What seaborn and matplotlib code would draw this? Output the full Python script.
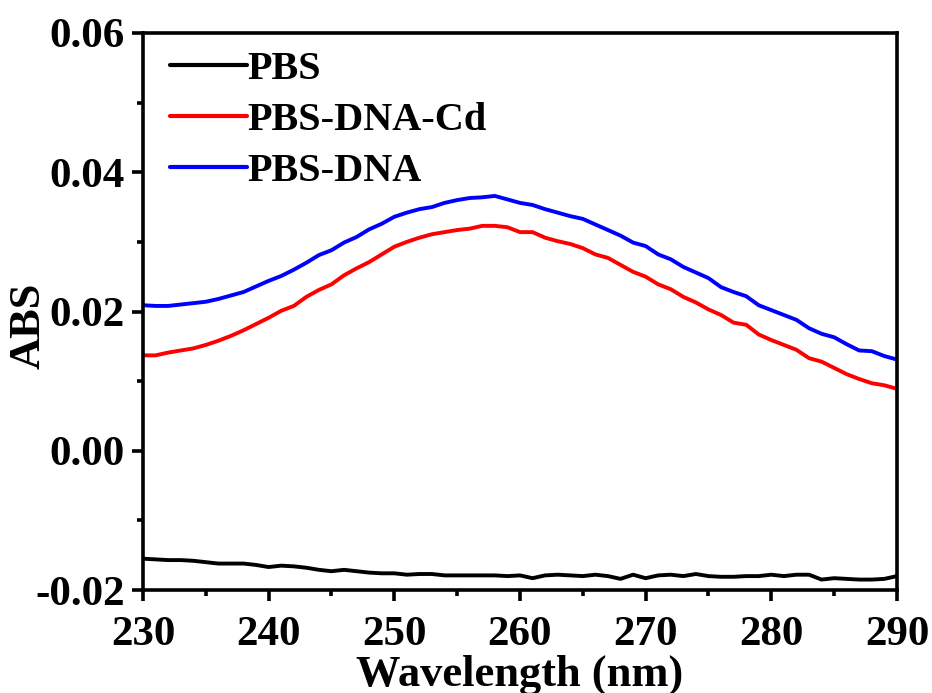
import numpy as np
import pandas as pd
import matplotlib
matplotlib.use("Agg")
import matplotlib.pyplot as plt
from matplotlib.ticker import MultipleLocator, FormatStrFormatter
import seaborn as sns

wavelength = list(range(230, 291))

pbs = [-0.0155, -0.0156, -0.0157, -0.0157, -0.0158, -0.0160, -0.0162, -0.0162, -0.0162, -0.0164,
       -0.0167, -0.0165, -0.0166, -0.0168, -0.0171, -0.0173, -0.0171, -0.0173, -0.0175, -0.0176,
       -0.0176, -0.0178, -0.0177, -0.0177, -0.0179, -0.0179, -0.0179, -0.0179, -0.0179, -0.0180,
       -0.0179, -0.0183, -0.0179, -0.0178, -0.0179, -0.0180, -0.0178, -0.0180, -0.0184, -0.0178,
       -0.0183, -0.0179, -0.0178, -0.0180, -0.0177, -0.0180, -0.0181, -0.0181, -0.0180, -0.0180,
       -0.0178, -0.0180, -0.0178, -0.0178, -0.0185, -0.0183, -0.0184, -0.0185, -0.0185, -0.0184,
       -0.0180]

pbs_dna_cd = [0.0137, 0.0137, 0.0141, 0.0144, 0.0147, 0.0152, 0.0158, 0.0165, 0.0173, 0.0182,
              0.0191, 0.0201, 0.0208, 0.0221, 0.0231, 0.0239, 0.0252, 0.0262, 0.0271, 0.0282,
              0.0293, 0.0300, 0.0306, 0.0311, 0.0314, 0.0317, 0.0319, 0.0323, 0.0323, 0.0321,
              0.0314, 0.0314, 0.0306, 0.0301, 0.0297, 0.0291, 0.0282, 0.0277, 0.0267, 0.0257,
              0.0250, 0.0239, 0.0232, 0.0221, 0.0213, 0.0203, 0.0195, 0.0184, 0.0181, 0.0167,
              0.0159, 0.0152, 0.0145, 0.0133, 0.0128, 0.0119, 0.0110, 0.0103, 0.0097, 0.0094,
              0.0089]

pbs_dna = [0.0209, 0.0208, 0.0208, 0.0210, 0.0212, 0.0214, 0.0218, 0.0223, 0.0228, 0.0236,
           0.0244, 0.0251, 0.0260, 0.0270, 0.0281, 0.0288, 0.0299, 0.0307, 0.0318, 0.0326,
           0.0336, 0.0342, 0.0347, 0.0350, 0.0356, 0.0360, 0.0363, 0.0364, 0.0366, 0.0361,
           0.0356, 0.0353, 0.0347, 0.0342, 0.0337, 0.0333, 0.0325, 0.0317, 0.0309, 0.0299,
           0.0294, 0.0282, 0.0275, 0.0264, 0.0256, 0.0248, 0.0235, 0.0228, 0.0222, 0.0209,
           0.0202, 0.0195, 0.0188, 0.0176, 0.0168, 0.0163, 0.0153, 0.0144, 0.0143, 0.0136,
           0.0131]

series_names = ["PBS", "PBS-DNA-Cd", "PBS-DNA"]
series_colors = ["#000000", "#ff0000", "#0000ff"]

df = pd.concat([
    pd.DataFrame({"Wavelength": wavelength, "ABS": vals, "Sample": name})
    for name, vals in zip(series_names, [pbs, pbs_dna_cd, pbs_dna])
], ignore_index=True)

sns.set_style("ticks")
plt.rcParams["font.family"] = ["Liberation Serif", "DejaVu Serif"]
plt.rcParams["font.weight"] = "bold"
plt.rcParams["text.color"] = "black"
plt.rcParams["axes.labelcolor"] = "black"
plt.rcParams["xtick.color"] = "black"
plt.rcParams["ytick.color"] = "black"
plt.rcParams["axes.edgecolor"] = "black"

fig = plt.figure(figsize=(9.32, 6.93), dpi=100)
ax = fig.add_axes([0.1534, 0.1486, 0.8090, 0.8038])

sns.lineplot(data=df, x="Wavelength", y="ABS", hue="Sample", hue_order=series_names,
             palette=dict(zip(series_names, series_colors)), linewidth=2.8, ax=ax,
             legend=True)

ax.set_xlim(230, 290)
ax.set_ylim(-0.02, 0.06)
ax.xaxis.set_major_locator(MultipleLocator(10))
ax.xaxis.set_minor_locator(MultipleLocator(5))
ax.yaxis.set_major_locator(MultipleLocator(0.02))
ax.yaxis.set_minor_locator(MultipleLocator(0.01))
ax.yaxis.set_major_formatter(FormatStrFormatter("%.2f"))

for s in ax.spines.values():
    s.set_linewidth(2.6)
    s.set_color("black")

ax.tick_params(axis="both", which="major", direction="out", length=8, width=2.6,
               labelsize=31, colors="black")
ax.tick_params(axis="x", which="major", pad=10.5)
ax.tick_params(axis="y", which="major", pad=5)
ax.tick_params(axis="both", which="minor", direction="out", length=4.3, width=2.6,
               colors="black")
for lab in ax.get_xticklabels() + ax.get_yticklabels():
    lab.set_fontweight("bold")

ax.set_xlabel("Wavelength (nm)", fontsize=32, fontweight="bold", color="black")
ax.set_ylabel("ABS", fontsize=32, fontweight="bold", color="black")
ax.xaxis.set_label_coords(0.5, -0.115)
ax.yaxis.set_label_coords(-0.125, 0.474)

leg = ax.legend(loc="upper left", bbox_to_anchor=(0.036, 0.968), frameon=False,
                prop={"family": "Liberation Serif", "weight": "bold", "size": 29},
                handlelength=1.91, handletextpad=0.0, labelspacing=0.345,
                borderpad=0, borderaxespad=0)
for h in leg.get_lines():
    h.set_linewidth(3.0)
for t in leg.get_texts():
    t.set_color("black")

fig.savefig("out.png", dpi=100)
